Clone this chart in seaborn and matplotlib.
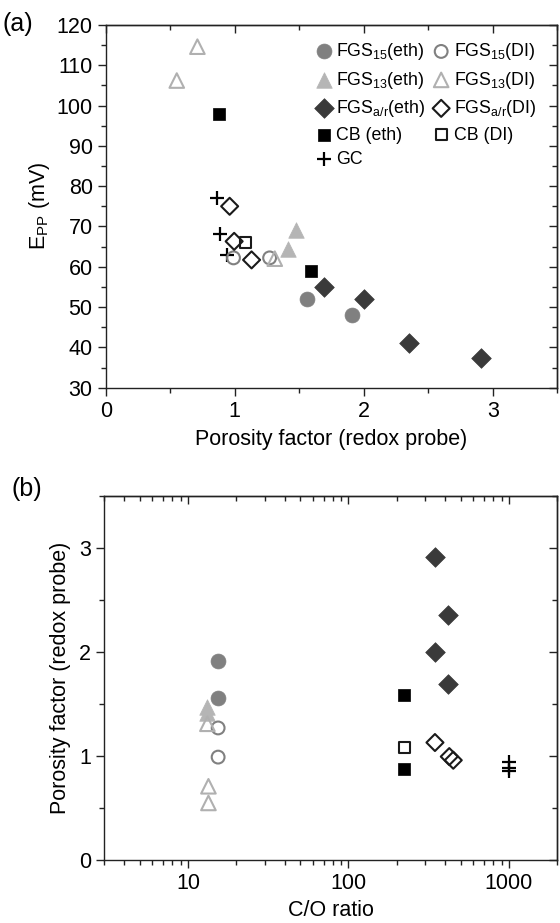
import warnings
import numpy as np
import pandas as pd
import matplotlib
matplotlib.use("Agg")
import matplotlib.pyplot as plt
import seaborn as sns
from matplotlib.ticker import MultipleLocator, LogLocator, NullFormatter, FixedLocator, FixedFormatter

warnings.filterwarnings("ignore")

# ---- data ----
# porosity factor (redox probe), Epp (mV) and C/O ratio for each sample set
fgs15_eth_pf = [1.56, 1.91]
fgs15_eth_epp = [52, 48]
fgs15_eth_co = [15.4, 15.4]

fgs15_di_pf = [0.99, 1.27]
fgs15_di_epp = [62.2, 62.2]
fgs15_di_co = [15.4, 15.4]

fgs13_eth_pf = [1.41, 1.475]
fgs13_eth_epp = [64.3, 69.2]
fgs13_eth_co = [13.2, 13.2]

fgs13_di_pf = [0.55, 0.71, 1.31]
fgs13_di_epp = [106.2, 114.6, 62]
fgs13_di_co = [13.4, 13.4, 13.2]

fgsar_eth_pf = [1.69, 2.0, 2.35, 2.91]
fgsar_eth_epp = [55, 52, 41.2, 37.4]
fgsar_eth_co = [416, 346, 416, 346]

fgsar_di_pf = [0.96, 0.995, 1.13]
fgsar_di_epp = [75, 66.3, 61.7]
fgsar_di_co = [450, 425, 346]

cb_eth_pf = [0.88, 1.59]
cb_eth_epp = [97.9, 59]
cb_eth_co = [223, 223]

cb_di_pf = [1.08]
cb_di_epp = [66]
cb_di_co = [223]

gc_pf = [0.86, 0.885, 0.94]
gc_epp = [77, 68.1, 63]
gc_co = [1000, 1000, 1000]

series = [
    # label, pf, epp, co, color, marker, filled, size
    ("FGS$_{15}$(eth)", fgs15_eth_pf, fgs15_eth_epp, fgs15_eth_co, "#808080", "o", True, 115),
    ("FGS$_{13}$(eth)", fgs13_eth_pf, fgs13_eth_epp, fgs13_eth_co, "#b5b5b5", "^", True, 125),
    ("FGS$_{\\mathrm{a/r}}$(eth)", fgsar_eth_pf, fgsar_eth_epp, fgsar_eth_co, "#3a3a3a", "D", True, 100),
    ("CB (eth)", cb_eth_pf, cb_eth_epp, cb_eth_co, "#000000", "s", True, 85),
    ("GC", gc_pf, gc_epp, gc_co, "#000000", "+", True, 110),
    ("FGS$_{15}$(DI)", fgs15_di_pf, fgs15_di_epp, fgs15_di_co, "#808080", "o", False, 85),
    ("FGS$_{13}$(DI)", fgs13_di_pf, fgs13_di_epp, fgs13_di_co, "#b0b0b0", "^", False, 110),
    ("FGS$_{\\mathrm{a/r}}$(DI)", fgsar_di_pf, fgsar_di_epp, fgsar_di_co, "#1a1a1a", "D", False, 75),
    ("CB (DI)", cb_di_pf, cb_di_epp, cb_di_co, "#1a1a1a", "s", False, 65),
]

sns.set_style("ticks")
plt.rcParams['font.family'] = ['Liberation Sans', 'DejaVu Sans']
plt.rcParams['mathtext.fontset'] = 'custom'
plt.rcParams['mathtext.rm'] = 'Liberation Sans'
plt.rcParams['mathtext.it'] = 'Liberation Sans:italic'
plt.rcParams['axes.linewidth'] = 1.0
plt.rcParams['text.color'] = 'black'
plt.rcParams['axes.labelcolor'] = 'black'
plt.rcParams['xtick.color'] = 'black'
plt.rcParams['ytick.color'] = 'black'

fig = plt.figure(figsize=(5.6, 9.23), dpi=100)
ax1 = fig.add_axes([0.189, 0.580, 0.806, 0.393])
ax2 = fig.add_axes([0.186, 0.068, 0.809, 0.395])


def draw(ax, xs, ys, color, marker, filled, size, label=None):
    kw = dict(x=xs, y=ys, ax=ax, marker=marker, s=size, color=color, label=label,
              legend=False, zorder=3)
    if marker == "+":
        kw["linewidth"] = 1.6
    elif filled:
        kw["edgecolor"] = color
        kw["linewidth"] = 0.5
    else:
        kw["facecolor"] = "none"
        kw["edgecolor"] = color
        kw["linewidth"] = 1.5
    sns.scatterplot(**kw)


for lab, pf, epp, co, c, m, f, s in series:
    draw(ax1, pf, epp, c, m, f, s, label=lab)
    draw(ax2, co, pf, c, m, f, s)

FS = 15.5

# ---- panel (a) ----
ax1.set_xlim(0, 3.5)
ax1.set_ylim(30, 120)
ax1.xaxis.set_major_locator(FixedLocator([0, 1, 2, 3]))
ax1.xaxis.set_minor_locator(MultipleLocator(0.5))
ax1.yaxis.set_major_locator(MultipleLocator(10))
ax1.yaxis.set_minor_locator(MultipleLocator(5))
ax1.set_xlabel("Porosity factor (redox probe)", fontsize=FS, labelpad=5)
ax1.set_ylabel("E$_{\\mathrm{PP}}$ (mV)", fontsize=FS, labelpad=3)

handles = ax1.collections[:]
labels = [s[0] for s in series]
ax1.legend(handles, labels, loc="upper left", bbox_to_anchor=(0.445, 0.975), ncol=2,
           frameon=False, fontsize=12.8, handletextpad=0.15, columnspacing=0.35,
           labelspacing=0.42, borderaxespad=0, handlelength=1.1, scatterpoints=1)

# ---- panel (b) ----
ax2.set_xscale("log")
ax2.set_xlim(3, 2000)
ax2.set_ylim(0, 3.5)
ax2.xaxis.set_major_locator(FixedLocator([10, 100, 1000]))
ax2.xaxis.set_major_formatter(FixedFormatter(["10", "100", "1000"]))
ax2.xaxis.set_minor_locator(LogLocator(base=10, subs=np.arange(2, 10), numticks=20))
ax2.xaxis.set_minor_formatter(NullFormatter())
ax2.yaxis.set_major_locator(MultipleLocator(1))
ax2.yaxis.set_minor_locator(MultipleLocator(0.5))
ax2.set_xlabel("C/O ratio", fontsize=FS, labelpad=4)
ax2.set_ylabel("Porosity factor (redox probe)", fontsize=FS, labelpad=6)

for ax in (ax1, ax2):
    for sp in ax.spines.values():
        sp.set_visible(True)
        sp.set_color("#222222")
    ax.tick_params(which="major", direction="out", length=6, width=1, labelsize=FS,
                   color="#222222", bottom=True, left=True, top=False, right=False)
    ax.tick_params(which="minor", direction="out", length=3.5, width=1, color="#222222",
                   bottom=True, left=True)
    # mirrored ticks pointing inwards on top/right
    top = ax.secondary_xaxis("top")
    if ax is ax2:
        top.set_xscale("log")
    top.xaxis.set_major_locator(ax.xaxis.get_major_locator())
    top.xaxis.set_minor_locator(ax.xaxis.get_minor_locator())
    top.tick_params(which="major", direction="in", length=6, width=1, labeltop=False, color="#222222")
    top.tick_params(which="minor", direction="in", length=3.5, width=1, color="#222222")
    right = ax.secondary_yaxis("right")
    right.yaxis.set_major_locator(ax.yaxis.get_major_locator())
    right.yaxis.set_minor_locator(ax.yaxis.get_minor_locator())
    right.tick_params(which="major", direction="in", length=6, width=1, labelright=False, color="#222222")
    right.tick_params(which="minor", direction="in", length=3.5, width=1, color="#222222")

fig.text(0.005, 0.974, "(a)", fontsize=18, va="center", ha="left")
fig.text(0.02, 0.470, "(b)", fontsize=18, va="center", ha="left")

fig.savefig("out.png", dpi=100)
